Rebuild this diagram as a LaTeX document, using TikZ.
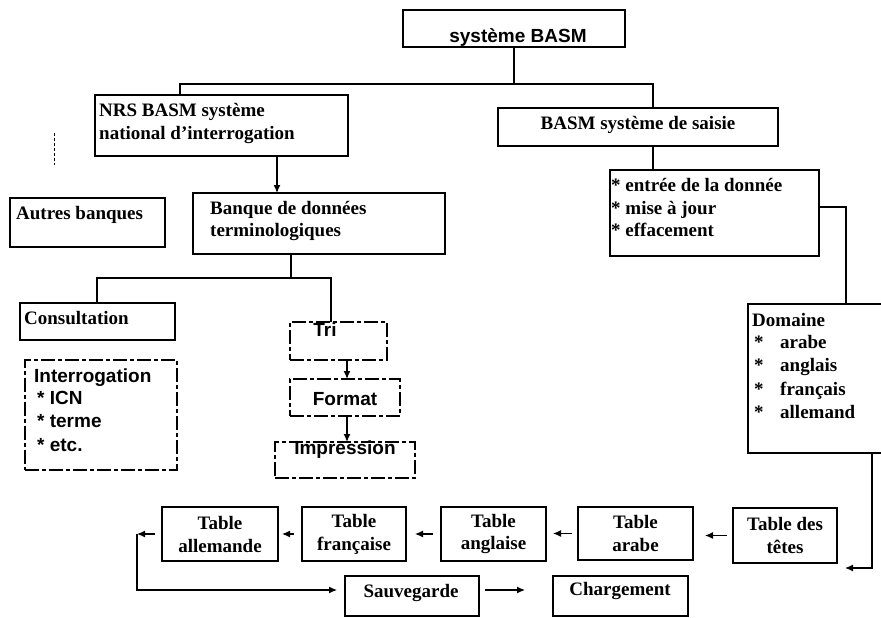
\documentclass[tikz,border=0pt]{standalone}
\usepackage{fontspec}
\setmainfont{Liberation Serif}
\setsansfont{Liberation Sans}
\usetikzlibrary{arrows.meta}
\tikzset{
  thickbox/.style={draw, line width=2.2pt},
  medbox/.style={draw, line width=1.7pt},
  thinbox/.style={draw, line width=1.2pt},
  dashbox/.style={draw, line width=1.2pt, dash pattern=on 14pt off 3pt on 4pt off 3pt},
  fser/.style={font=\fontsize{19}{23}\selectfont\bfseries, inner sep=0pt},
  fsan/.style={font=\fontsize{19}{23}\selectfont\sffamily\bfseries, inner sep=0pt},
  ln/.style={text height=13pt, text depth=4pt},
  conn/.style={line width=1.2pt},
  bconn/.style={line width=2.2pt},
  arr/.style={line width=1.2pt, -{Latex[length=8pt,width=7pt]}},
}
\newcommand\mybox[6]{\node[#6, minimum width={(#4-#2)*1pt}, minimum height={(#5-#3)*1pt}, inner sep=0pt, outer sep=0pt] (#1) at ({(#2+#4)/2},{(#3+#5)/2}) {};}
\begin{document}
\begin{tikzpicture}[x=1pt,y=-1pt]
\fill[white] (0,0) rectangle (881,618);
\useasboundingbox (0,0) rectangle (881,618);
% boxes
\mybox{sys}{403}{10}{625}{47}{thinbox}
\mybox{nrs}{95}{95}{348}{156}{thickbox}
\mybox{sai}{498}{108}{778}{146}{thickbox}
\mybox{aut}{10}{198}{165}{247}{thickbox}
\mybox{ban}{193}{193}{445}{254}{thickbox}
\mybox{ent}{610}{170}{819}{256}{thickbox}
\mybox{con}{20}{303}{175}{340}{thickbox}
\mybox{itg}{25}{360}{177}{470}{dashbox}
\mybox{tri}{290}{322}{387}{360}{dashbox}
\mybox{fmt}{290}{379}{400}{416}{dashbox}
\mybox{imp}{275}{442}{415}{478}{dashbox}
\mybox{dom}{748}{304}{884}{453}{thinbox}
\mybox{tdt}{733}{508}{837}{563}{medbox}
\mybox{tar}{578}{507}{693}{560}{thickbox}
\mybox{tan}{441}{507}{546}{561}{thickbox}
\mybox{tfr}{302}{507}{406}{561}{thickbox}
\mybox{tal}{162}{507}{278}{561}{thickbox}
\mybox{sau}{345}{576}{479}{616}{thinbox}
\mybox{cha}{553}{576}{688}{616}{thinbox}
% small dashed mark
\draw[line width=1pt, dash pattern=on 3pt off 2pt] (54,133) -- (54,165);
% connectors
\draw[conn] (sys.south) -- ++(0,37);
\draw[bconn] ([xshift=85pt]nrs.north west) -- ++(0,-11) -| ([xshift=155pt]sai.north west);
\draw[arr] ([xshift=182pt]nrs.south west) -- ([xshift=84pt]ban.north west);
\draw[conn] ([xshift=98pt]ban.south west) -- ++(0,24);
\draw[bconn] ([xshift=77pt]con.north west) -- ++(0,-25) -| ([xshift=41pt]tri.north west);
\draw[arr] ([xshift=57pt]tri.south west) -- ([xshift=57pt]fmt.north west);
\draw[arr] ([xshift=57pt]fmt.south west) -- ([xshift=72pt]imp.north west);
\draw[conn] ([xshift=155pt]sai.south west) -- ([xshift=43pt]ent.north west);
\draw[bconn] ([yshift=-37pt]ent.north east) -| ([xshift=98pt]dom.north west);
\coordinate (rc) at (845,568);
\draw[arr] ([xshift=124pt]dom.south west) |- (rc);
\draw[arr, shorten <=6pt, shorten >=12pt] (tdt.west) -- (tdt.west -| tar.east);
\draw[arr, shorten <=6pt, shorten >=7pt] (tar.west) -- (tar.west -| tan.east);
\draw[arr, shorten <=8pt, shorten >=9pt] (tan.west) -- (tan.west -| tfr.east);
\draw[arr, shorten <=8pt, shorten >=4pt] (tfr.west) -- (tfr.west -| tal.east);
\draw[arr] ([xshift=-7pt]tal.west) -- ([xshift=-25pt]tal.west);
\draw[arr] ([xshift=-25pt]tal.west) |- ([xshift=-8pt,yshift=6pt]sau.west);
\draw[arr] ([xshift=6pt,yshift=6pt]sau.east) -- ([xshift=-28pt,yshift=6pt]cha.west);
% texts
\node[fsan,ln] (tsys) at (518,38) {système BASM};
\node[fser,ln,anchor=west] (tn1) at (99,112) {NRS BASM système};
\node[fser,ln,anchor=west] (tn2) at (99,135) {national d'interrogation};
\node[fser,ln] (tsai) at (638,125) {BASM système de saisie};
\node[fser,ln,anchor=west] (taut) at (16,215) {Autres banques};
\node[fser,ln,anchor=west] (tb1) at (210,210) {Banque de données};
\node[fser,ln,anchor=west] (tb2) at (210,232) {terminologiques};
\node[fser,ln,anchor=west] (tcon) at (24,320) {Consultation};
\node[fsan,ln,anchor=west] (ti1) at (34,378) {Interrogation};
\node[fsan,ln,anchor=west] (ti2) at (37,400) {* ICN};
\node[fsan,ln,anchor=west] (ti3) at (37,423) {* terme};
\node[fsan,ln,anchor=west] (ti4) at (37,447) {* etc.};
\node[fsan,ln] (ttri) at (325,332) {Tri};
\node[fsan,ln] (tfmt) at (345,401) {Format};
\node[fsan,ln] (timp) at (345,450) {Impression};
\node[fser,ln,anchor=west] (te1) at (611,187) {* entrée de la donnée};
\node[fser,ln,anchor=west] (te2) at (611,210) {* mise à jour};
\node[fser,ln,anchor=west] (te3) at (611,232) {* effacement};
\node[fser,ln,anchor=west] (td0) at (752,322) {Domaine};
\node[fser,ln,anchor=west] (tb1a) at (754,344) {*};
\node[fser,ln,anchor=west] (td1) at (780,344) {arabe};
\node[fser,ln,anchor=west] (tb2a) at (754,367) {*};
\node[fser,ln,anchor=west] (td2) at (780,367) {anglais};
\node[fser,ln,anchor=west] (tb3a) at (754,391) {*};
\node[fser,ln,anchor=west] (td3) at (780,391) {français};
\node[fser,ln,anchor=west] (tb4a) at (754,414) {*};
\node[fser,ln,anchor=west] (td4) at (780,414) {allemand};
\node[fser,align=center] (ttdt) at (tdt.center) {Table des\\têtes};
\node[fser,align=center] (ttar) at (tar.center) {Table\\arabe};
\node[fser,align=center] (ttan) at (tan.center) {Table\\anglaise};
\node[fser,align=center] (ttfr) at (tfr.center) {Table\\française};
\node[fser,align=center] (ttal) at (tal.center) {Table\\allemande};
\node[fser,ln] (tsau) at (411,593) {Sauvegarde};
\node[fser,ln] (tcha) at (620,591) {Chargement};
\end{tikzpicture}
\end{document}
